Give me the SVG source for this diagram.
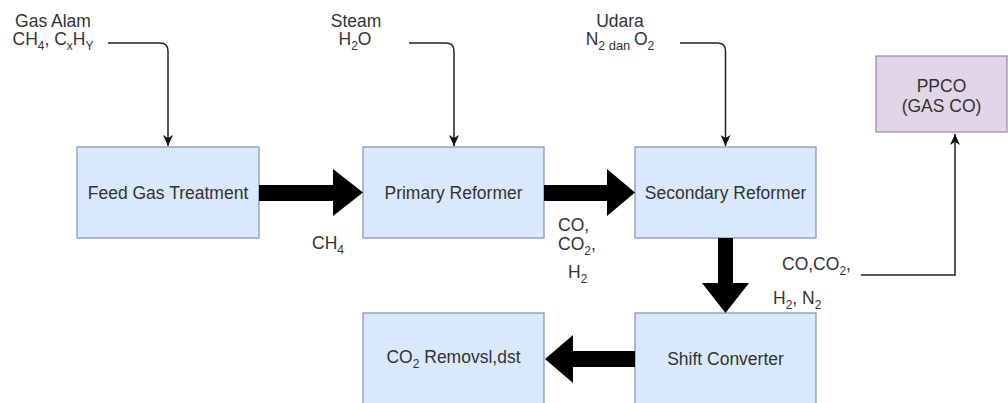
<svg xmlns="http://www.w3.org/2000/svg" width="1008" height="403" viewBox="0 0 1008 403">
<defs>
<style>
text{font-family:"Liberation Sans",Arial,sans-serif;font-size:17.5px;fill:#333;}
.sub{font-size:12px;}
.small{font-size:13px;}
.box{fill:#dae8fc;stroke:#7b93b8;stroke-width:1.2;}
.pbox{fill:#e1d5e7;stroke:#9a86a6;stroke-width:1.2;}
.thin{fill:none;stroke:#222;stroke-width:1.5;}
.thick{fill:#000;stroke:none;}
</style>
<marker id="arr" markerUnits="userSpaceOnUse" markerWidth="12" markerHeight="10" refX="11" refY="5" orient="auto" viewBox="0 0 12 10">
<path d="M0,0 L11,5 L0,10 L3,5 Z" fill="#111"/>
</marker>
</defs>
<rect width="1008" height="403" fill="#fff"/>

<g id="node-feed">
<rect class="box" x="77" y="147" width="182" height="91"/>
<text x="168" y="199" text-anchor="middle">Feed Gas Treatment</text>
</g>
<g id="node-primary">
<rect class="box" x="363" y="147" width="181" height="91"/>
<text x="453.5" y="199" text-anchor="middle">Primary Reformer</text>
</g>
<g id="node-secondary">
<rect class="box" x="635" y="147" width="181" height="91"/>
<text x="725.5" y="199" text-anchor="middle">Secondary Reformer</text>
</g>
<g id="node-shift">
<rect class="box" x="635" y="313" width="181" height="91"/>
<text x="725.5" y="365" text-anchor="middle">Shift Converter</text>
</g>
<g id="node-co2removal">
<rect class="box" x="363" y="313" width="181" height="91"/>
<text x="453.5" y="363" text-anchor="middle">CO<tspan class="sub" dy="5">2</tspan><tspan dy="-5"> Removsl,dst</tspan></text>
</g>
<g id="node-ppco">
<rect class="pbox" x="876" y="56" width="131" height="76"/>
<text x="941.5" y="92" text-anchor="middle">PPCO</text>
<text x="941.5" y="112" text-anchor="middle">(GAS CO)</text>
</g>

<g id="node-gasalam">
<text x="53" y="27" text-anchor="middle">Gas Alam</text>
<text x="53" y="45" text-anchor="middle">CH<tspan class="sub" dy="5">4</tspan><tspan dy="-5">, C</tspan><tspan class="sub" dy="5">x</tspan><tspan dy="-5">H</tspan><tspan class="sub" dy="5">Y</tspan></text>
</g>
<g id="node-steam">
<text x="356" y="27" text-anchor="middle">Steam</text>
<text x="355" y="45" text-anchor="middle">H<tspan class="sub" dy="5">2</tspan><tspan dy="-5">O</tspan></text>
</g>
<g id="node-udara">
<text x="620" y="27" text-anchor="middle">Udara</text>
<text x="620" y="45" text-anchor="middle">N<tspan class="sub" dy="5">2</tspan><tspan class="small"> dan </tspan><tspan dy="-5">O</tspan><tspan class="sub" dy="5">2</tspan></text>
</g>

<g id="connectors">
<path class="thin" d="M108,43 H160 Q168,43 168,51 V146" marker-end="url(#arr)"/>
<path class="thin" d="M409,43 H446 Q454,43 454,51 V146" marker-end="url(#arr)"/>
<path class="thin" d="M680,43 H717.5 Q725.5,43 725.5,51 V146" marker-end="url(#arr)"/>
<path class="thin" d="M861,275 H955 V134" marker-end="url(#arr)"/>

<polygon class="thick" points="259,185 333,185 333,169 363,192.5 333,216 333,201 259,201"/>
<polygon class="thick" points="544,185 607,185 607,169 635,192.5 607,216 607,201 544,201"/>
<polygon class="thick" points="718,238 733,238 733,283 749,283 725.5,313 702,283 718,283"/>
<polygon class="thick" points="635,351 573,351 573,335 545,359 573,383 573,367 635,367"/>

<text x="328" y="249" text-anchor="middle">CH<tspan class="sub" dy="5">4</tspan></text>
<text x="558" y="231">CO,</text>
<text x="558" y="250">CO<tspan class="sub" dy="5">2</tspan><tspan dy="-5">,</tspan></text>
<text x="568" y="278">H<tspan class="sub" dy="5">2</tspan></text>
<text x="782" y="270">CO,CO<tspan class="sub" dy="5">2</tspan><tspan dy="-5">,</tspan></text>
<text x="773" y="304">H<tspan class="sub" dy="5">2</tspan><tspan dy="-5">, N</tspan><tspan class="sub" dy="5">2</tspan></text>
</g>
</svg>
